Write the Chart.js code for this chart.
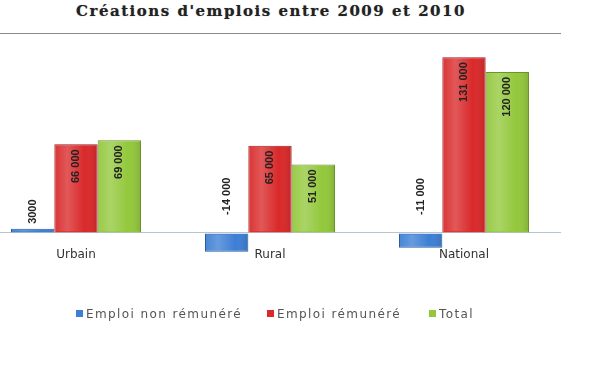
<!DOCTYPE html>
<html lang="fr">
<head>
<meta charset="UTF-8">
<title>Créations d'emplois entre 2009 et 2010</title>
<script src="https://cdn.jsdelivr.net/npm/chart.js"></script>
<style>
    body { margin: 0; width: 600px; height: 372px; background: #fff; position: relative; overflow: hidden; }
    .title {
        position: absolute; left: 0; width: 542px; top: 2px; text-align: center;
        font-family: "DejaVu Serif", serif; font-weight: bold; font-size: 15px; color: #222;
        letter-spacing: 1.5px; text-shadow: 0 0 1px #999;
    }
    #chartBox { position: absolute; left: -21px; top: 0; }
    .legend {
        position: absolute; top: 307px; left: 76px; font-family: "DejaVu Sans", sans-serif;
        font-size: 12px; color: #555; letter-spacing: 1.4px; white-space: nowrap;
    }
    .legend span.item { position: absolute; top: 0; }
    .legend i { display: inline-block; width: 7px; height: 7px; margin-right: 3px; vertical-align: 1px; }
</style>
</head>
<body>
<div class="title">Créations d'emplois entre 2009 et 2010</div>
<div id="chartBox"><canvas id="jobs" width="630" height="372"></canvas></div>
<div class="legend" id="legend"></div>

<script>
    // data
    const categories = ['Urbain', 'Rural', 'National'];
    const seriesNames = ['Emploi non rémunéré', 'Emploi rémunéré', 'Total'];
    const nonPaid = [3000, -14000, -11000];
    const paid = [66000, 65000, 131000];
    const total = [69000, 51000, 120000];
    const valueLabels = [
        ['3000', '-14 000', '-11 000'],
        ['66 000', '65 000', '131 000'],
        ['69 000', '51 000', '120 000']
    ];

    const fills = ['#3d7fd4', '#d9292a', '#93c83c'];
    const edges = ['#2a5c9e', '#9e1c1c', '#6a9428'];

    // legend built from the series names
    const legendEl = document.getElementById('legend');
    const legendX = [0, 191, 353];
    seriesNames.forEach((name, i) => {
        const s = document.createElement('span');
        s.className = 'item';
        s.style.left = legendX[i] + 'px';
        s.innerHTML = '<i style="background:' + fills[i] + '"></i>' + name;
        legendEl.appendChild(s);
    });

    // glossy shading + rotated value labels on the bars
    const barLabels = {
        id: 'barLabels',
        afterDatasetsDraw(chart) {
            const ctx = chart.ctx;
            const zero = chart.scales.y.getPixelForValue(0);
            chart.data.datasets.forEach((ds, di) => {
                chart.getDatasetMeta(di).data.forEach(bar => {
                    const l = bar.x - bar.width / 2;
                    const g = ctx.createLinearGradient(l, 0, l + bar.width, 0);
                    g.addColorStop(0, 'rgba(255,255,255,0.05)');
                    g.addColorStop(0.3, 'rgba(255,255,255,0.22)');
                    g.addColorStop(0.7, 'rgba(255,255,255,0)');
                    g.addColorStop(1, 'rgba(0,0,0,0.12)');
                    ctx.fillStyle = g;
                    const top = Math.min(bar.y, bar.base);
                    ctx.fillRect(l + 1, top + 1, bar.width - 2, Math.abs(bar.base - bar.y) - 2);
                });
            });
            ctx.save();
            ctx.font = 'bold 11px "Liberation Sans", sans-serif';
            ctx.fillStyle = '#222';
            ctx.textBaseline = 'middle';
            chart.data.datasets.forEach((ds, di) => {
                chart.getDatasetMeta(di).data.forEach((bar, i) => {
                    const v = ds.data[i];
                    const txt = valueLabels[di][i];
                    ctx.save();
                    if (v > 20000) {
                        ctx.translate(bar.x, bar.y + 5);
                        ctx.rotate(-Math.PI / 2);
                        ctx.textAlign = 'right';
                    } else {
                        const gap = v < 0 ? 18 : 5;
                        ctx.translate(bar.x, Math.min(bar.y, zero) - gap);
                        ctx.rotate(-Math.PI / 2);
                        ctx.textAlign = 'left';
                    }
                    ctx.fillText(txt, 0, 0);
                    ctx.restore();
                });
            });
            ctx.restore();
        }
    };

    const series = [nonPaid, paid, total];
    new Chart(document.getElementById('jobs'), {
        type: 'bar',
        data: {
            labels: categories,
            datasets: series.map((d, i) => ({
                label: seriesNames[i],
                data: d,
                backgroundColor: fills[i],
                borderColor: edges[i],
                borderWidth: 1,
                clip: false,
                categoryPercentage: 0.67,
                barPercentage: 1
            }))
        },
        options: {
            responsive: false,
            animation: false,
            layout: { padding: { left: 0, right: 48, top: 33, bottom: 110 } },
            plugins: { legend: { display: false }, tooltip: { enabled: false } },
            scales: {
                x: {
                    grid: { display: false },
                    border: { display: false },
                    ticks: { color: '#333', padding: 0, font: { family: 'DejaVu Sans', size: 12 } }
                },
                y: {
                    min: -5000,
                    max: 149000,
                    afterBuildTicks: scale => {
                        scale.ticks = [{ value: -5000 }, { value: 0 }, { value: 149000 }];
                    },
                    ticks: { display: false },
                    border: { display: false },
                    grid: {
                        drawTicks: false,
                        color: c => c.tick.value === -5000 ? 'rgba(0,0,0,0)' : (c.tick.value === 0 ? '#b8c4d0' : '#888')
                    }
                }
            }
        },
        plugins: [barLabels]
    });
</script>
</body>
</html>
